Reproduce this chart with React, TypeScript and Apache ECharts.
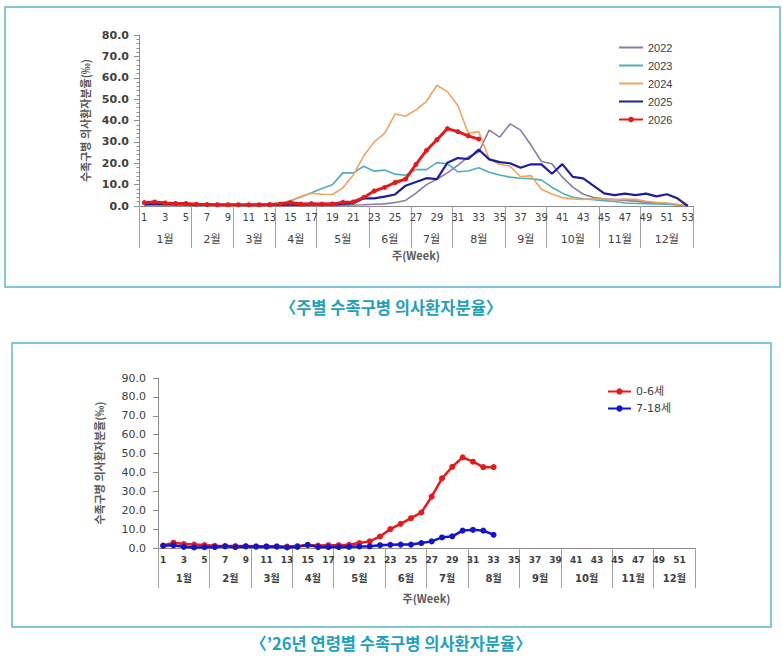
import { useEffect, useRef } from 'react';
import * as echarts from 'echarts';

// week categories and month groups
const weeks53 = Array.from({ length: 53 }, (_, i) => String(i + 1));
const weeks52 = weeks53.slice(0, 52);
const months = ['1월', '2월', '3월', '4월', '5월', '6월', '7월', '8월', '9월', '10월', '11월', '12월'];
const monthEdges53 = [0.5, 5.5, 9.5, 13.5, 17.5, 22.5, 26.5, 30.5, 35.5, 39.5, 44.5, 48.5, 53.5];
const monthEdges52 = [0.5, 5.5, 9.5, 13.5, 17.5, 22.5, 26.5, 30.5, 35.5, 39.5, 44.5, 48.5, 52.5];

// weekly rate by year (‰)
const y2022 = [
  0.3, 0.3, 0.3, 0.3, 0.3, 0.2, 0.2, 0.2, 0.2, 0.2, 0.2, 0.2, 0.2, 0.2, 0.3, 0.3, 0.3, 0.3, 0.3, 0.4,
  0.5, 0.6, 0.8, 1.0, 1.6, 2.6, 6.0, 10.0, 12.5, 15.5, 19.0, 23.0, 25.2,
  35.5, 32.2, 38.4, 35.5, 28.5, 20.8, 19.8, 13.5, 8.8, 5.5, 4.0, 3.4, 3.0, 2.6, 2.3, 1.8, 1.4, 1.1, 0.6, 0.2,
];
const y2023 = [
  0.4, 0.4, 0.3, 0.3, 0.3, 0.3, 0.3, 0.3, 0.3, 0.3, 0.4, 0.6,
  0.9, 1.4, 2.4, 4.2, 6.2, 8.2, 9.9, 15.5, 15.5, 18.6, 16.3, 16.8, 14.9, 14.4, 17.0, 17.0, 20.3, 19.8,
  16.0, 16.4, 17.9, 15.8, 14.5, 13.5, 13.0, 12.8, 12.1, 8.8, 6.0, 4.1, 3.4, 2.9, 2.5, 2.1, 1.4, 1.2,
  1.1, 1.0, 0.8, 0.5, 0.2,
];
const y2024 = [
  0.5, 0.5, 0.5, 0.4, 0.4, 0.4, 0.3, 0.3, 0.3, 0.3, 0.4, 0.5,
  0.6, 1.2, 2.5, 4.5, 6.0, 5.5, 5.4, 8.5, 14.5, 23.5, 30.0, 34.0, 43.0, 42.0, 45.0, 49.0, 56.5, 53.5,
  47.0, 34.0, 34.8, 22.0, 19.5, 18.6, 13.7, 14.2, 7.8, 5.6, 3.9, 3.3, 3.1, 3.4, 3.2, 3.0, 3.2, 3.1,
  2.2, 1.7, 1.4, 0.8, 0.2,
];
const y2025 = [
  0.8, 1.0, 0.9, 0.8, 0.7, 0.5, 0.5, 0.5, 0.5, 0.5, 0.5, 0.5, 0.5, 0.5, 0.6, 0.6, 0.7, 0.7, 0.8, 1.0, 1.3,
  3.6, 3.6, 4.4, 5.4, 9.5, 11.2, 13.0, 12.6, 20.2, 22.4, 22.0, 26.4, 21.8, 20.5, 20.0, 17.9, 19.5, 19.5,
  15.1, 19.6, 13.6, 12.9, 9.4, 5.9, 5.1, 5.8, 5.1, 5.8, 4.5, 5.5, 3.6, 0.0,
];
const y2026 = [
  1.6, 1.9, 1.4, 1.2, 1.2, 0.8, 0.7, 0.6, 0.6, 0.6, 0.6, 0.6, 0.7, 0.9, 1.6, 0.9, 1.1, 0.9, 1.0, 1.7, 1.9,
  4.0, 7.0, 8.7, 11.0, 12.6, 19.5, 26.0, 31.0, 36.2, 34.8, 32.8, 31.3,
];

// 2026 by age group (‰)
const age0to6 = [
  1.3, 2.8, 2.1, 1.8, 1.6, 1.2, 1.0, 1.0, 1.0, 0.9, 0.9, 0.9, 0.8, 1.0, 1.5, 1.3, 1.5, 1.5, 1.7, 2.6, 3.5,
  6.1, 10.0, 12.8, 15.8, 18.8, 27.2, 36.9, 43.0, 48.0, 45.7, 42.8, 42.8,
];
const age7to18 = [
  1.2, 1.4, 0.6, 0.3, 0.4, 0.5, 0.9, 0.5, 0.8, 0.7, 0.7, 0.7, 0.3, 0.6, 1.7, 0.5, 0.5, 0.5, 0.6, 0.8, 0.9,
  1.5, 1.7, 1.8, 1.8, 2.6, 3.5, 5.6, 6.2, 9.2, 9.6, 9.2, 7.0,
];

const NUM_FONT = '"DejaVu Sans", "Noto Sans CJK KR", sans-serif';
const KR_FONT = '"Noto Sans CJK KR", "Noto Sans", sans-serif';
const LABEL = '#404040';
const AXIS = '#8c8c8c';
const FRAME = '#5cb8cf';
const CAPTION = '#22a0bb';

function centers(edges: number[]) {
  return edges.slice(1).map((e, i) => (e + edges[i]) / 2);
}

function monthAxis(gridIndex: number, edges: number[], tickLen: number, margin: number, nameGap: number, bold: boolean) {
  const mid = centers(edges);
  return {
    type: 'value' as const,
    gridIndex,
    position: 'bottom' as const,
    min: edges[0],
    max: edges[edges.length - 1],
    axisLine: { show: false },
    splitLine: { show: false },
    axisTick: {
      show: true,
      customValues: edges,
      length: tickLen,
      lineStyle: { color: '#a0a0a0', width: 1 },
    },
    axisLabel: {
      customValues: mid,
      margin,
      color: LABEL,
      fontSize: bold ? 10 : 11,
      fontWeight: bold ? 'bold' : 'normal',
      fontFamily: NUM_FONT,
      formatter: (v: number) => months[mid.findIndex(m => Math.abs(m - v) < 0.01)] ?? '',
    },
    name: '주(Week)',
    nameLocation: 'middle' as const,
    nameGap,
    nameTextStyle: { color: '#595959', fontSize: 11, fontWeight: 'bold', fontFamily: KR_FONT },
  };
}

function weekAxis(gridIndex: number, data: string[], bold: boolean) {
  return {
    type: 'category' as const,
    gridIndex,
    position: 'bottom' as const,
    data,
    boundaryGap: true,
    axisLine: { lineStyle: { color: AXIS, width: 1 } },
    axisTick: { interval: 0, length: 3, lineStyle: { color: AXIS } },
    axisLabel: {
      interval: 1,
      margin: bold ? 7 : 6,
      color: LABEL,
      fontSize: bold ? 9 : 10,
      fontWeight: bold ? 'bold' : 'normal',
      fontFamily: NUM_FONT,
    },
  };
}

function rateAxis(gridIndex: number, max: number, nameGap: number, minor: boolean, labelGap: number) {
  return {
    type: 'value' as const,
    gridIndex,
    min: 0,
    max,
    interval: 10,
    axisLine: { show: true, lineStyle: { color: AXIS, width: 1 } },
    axisTick: { show: true, length: 5, lineStyle: { color: AXIS } },
    minorTick: { show: minor, splitNumber: 5, length: 2.5, lineStyle: { color: AXIS } },
    splitLine: { show: false },
    axisLabel: {
      color: LABEL,
      fontSize: 11,
      fontWeight: minor ? 'bold' : 'normal',
      fontFamily: NUM_FONT,
      margin: labelGap,
      formatter: (v: number) => v.toFixed(1),
    },
    name: '수족구병 의사환자분율(‰)',
    nameLocation: 'middle' as const,
    nameRotate: 90,
    nameGap,
    nameTextStyle: { color: '#595959', fontSize: 11, fontWeight: 'bold', fontFamily: KR_FONT },
  };
}

function plain(name: string, data: number[], color: string, width: number) {
  return {
    name,
    type: 'line' as const,
    data,
    xAxisIndex: 0,
    yAxisIndex: 0,
    symbol: 'none',
    lineStyle: { color, width },
    itemStyle: { color },
  };
}

function dotted(name: string, data: number[], color: string, width: number, size: number, axis: number) {
  return {
    name,
    type: 'line' as const,
    data,
    xAxisIndex: axis === 0 ? 0 : 2,
    yAxisIndex: axis,
    symbol: 'circle',
    symbolSize: size,
    lineStyle: { color, width },
    itemStyle: { color },
  };
}

// legend entries for lines drawn without markers: hide the legend dot
const lineOnly = (name: string) => ({ name, itemStyle: { opacity: 0 } });

export default function App() {
  const ref = useRef<HTMLDivElement>(null);

  useEffect(() => {
    if (!ref.current) return;
    const chart = echarts.init(ref.current, undefined, { renderer: 'svg' });
    chart.setOption({
      animation: false,
      backgroundColor: '#ffffff',
      textStyle: { fontFamily: KR_FONT },
      title: [
        {
          text: '〈주별 수족구병 의사환자분율〉',
          left: 'center',
          top: 299,
          padding: 0,
          textStyle: { color: CAPTION, fontSize: 16.5, fontWeight: 'bold', fontFamily: KR_FONT },
        },
        {
          text: '〈’26년 연령별 수족구병 의사환자분율〉',
          left: 'center',
          top: 635,
          padding: 0,
          textStyle: { color: CAPTION, fontSize: 16.5, fontWeight: 'bold', fontFamily: KR_FONT },
        },
      ],
      graphic: [
        {
          type: 'rect',
          silent: true,
          shape: { x: 5, y: 7, width: 775, height: 280 },
          style: { fill: 'none', stroke: FRAME, lineWidth: 1.5 },
        },
        {
          type: 'rect',
          silent: true,
          shape: { x: 12, y: 343, width: 759, height: 284 },
          style: { fill: 'none', stroke: FRAME, lineWidth: 1.5 },
        },
      ],
      legend: [
        {
          data: [lineOnly('2022'), lineOnly('2023'), lineOnly('2024'), lineOnly('2025'), { name: '2026' }],
          orient: 'vertical',
          left: 613,
          top: 37,
          itemWidth: 24,
          itemHeight: 7,
          itemGap: 7,
          textStyle: { color: LABEL, fontSize: 11, fontFamily: '"Liberation Sans", Arial, sans-serif' },
        },
        {
          data: ['0-6세', '7-18세'],
          orient: 'vertical',
          left: 602,
          top: 381,
          itemWidth: 23,
          itemHeight: 8,
          itemGap: 6,
          textStyle: { color: LABEL, fontSize: 11, fontFamily: NUM_FONT },
        },
      ],
      grid: [
        { left: 139, width: 554, top: 35, height: 171 },
        { left: 158, width: 537, top: 378, height: 170 },
      ],
      xAxis: [
        weekAxis(0, weeks53, false),
        monthAxis(0, monthEdges53, 42, 28, 43, false),
        weekAxis(1, weeks52, true),
        monthAxis(1, monthEdges52, 40, 25, 44, true),
      ],
      yAxis: [rateAxis(0, 80, 47, true, 10), rateAxis(1, 90, 54, false, 12)],
      series: [
        plain('2022', y2022, '#8a7aa6', 1.6),
        plain('2023', y2023, '#4fadba', 1.6),
        plain('2024', y2024, '#f0a35e', 1.6),
        plain('2025', y2025, '#1e1e9a', 2.2),
        dotted('2026', y2026, '#e41a1c', 3, 5, 0),
        dotted('0-6세', age0to6, '#e41a1c', 2.5, 6, 1),
        dotted('7-18세', age7to18, '#1414c8', 2.5, 6, 1),
      ],
    });
    return () => chart.dispose();
  }, []);

  return (
    <div
      ref={ref}
      style={{ position: 'absolute', left: 0, top: 0, width: 782, height: 668 }}
    />
  );
}
